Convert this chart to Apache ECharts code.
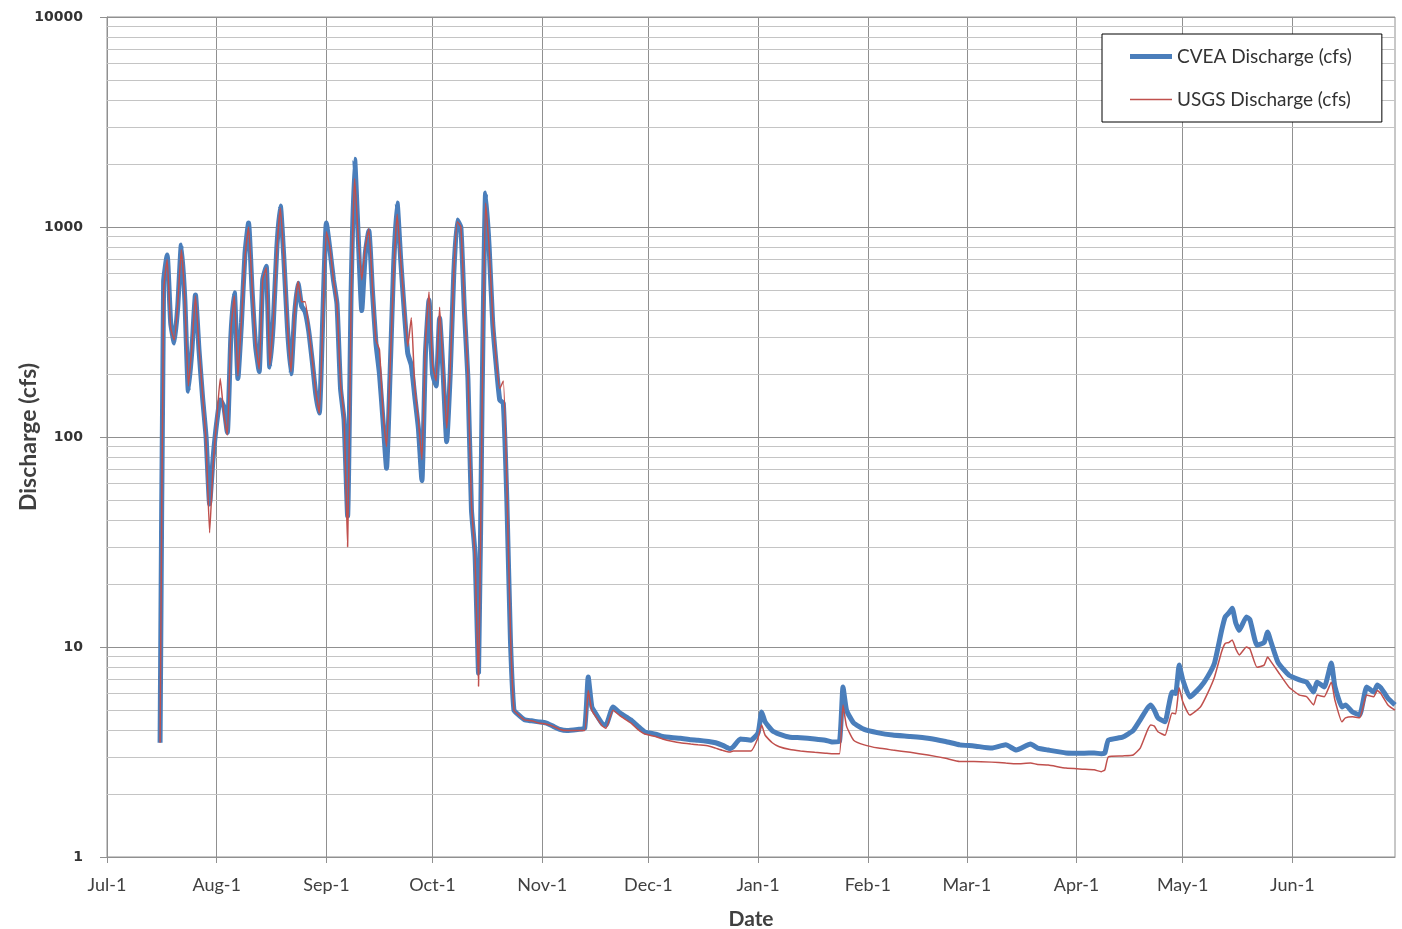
<!DOCTYPE html>
<html>
<head>
<meta charset="utf-8">
<script src="https://cdn.jsdelivr.net/npm/echarts@6/dist/echarts.min.js"></script>
<style>
  html, body { margin: 0; padding: 0; background: #ffffff; }
  #chart { width: 1402px; height: 929px; }
</style>
</head>
<body>
<div id="chart"></div>
<script>
// ---- Axis categories (one per day, Jul-1 .. Jun-30) ----
const monthNames = ['Jul', 'Aug', 'Sep', 'Oct', 'Nov', 'Dec', 'Jan', 'Feb', 'Mar', 'Apr', 'May', 'Jun'];
const monthLengths = [31, 31, 30, 31, 30, 31, 31, 28, 31, 30, 31, 30];
const yTickValues = [1, 10, 100, 1000, 10000];
const minorGridValues = [2, 3, 4, 5, 6, 7, 8, 9, 20, 30, 40, 50, 60, 70, 80, 90,
  200, 300, 400, 500, 600, 700, 800, 900, 2000, 3000, 4000, 5000, 6000, 7000, 8000, 9000];

// ---- Data (day index from Jul-1, discharge in cfs) ----
const dayIndex = [
  15, 16, 17, 18, 19, 20, 21, 22, 23, 24, 25, 26, 27, 28, 29, 30, 31, 32, 33, 34,
  35, 36, 37, 38, 39, 40, 41, 42, 43, 44, 45, 46, 47, 48, 49, 50, 51, 52, 53, 54,
  55, 56, 57, 58, 59, 60, 61, 62, 63, 64, 65, 66, 67, 68, 69, 70, 71, 72, 73, 74,
  75, 76, 77, 78, 79, 80, 81, 82, 83, 84, 85, 86, 87, 88, 89, 90, 91, 92, 93, 94,
  95, 96, 97, 98, 99, 100, 101, 102, 103, 104, 105, 106, 107, 108, 109, 110, 111, 112, 113, 114,
  115, 116, 118, 120, 122, 124, 126, 128, 130, 133, 135, 136, 137, 138, 140, 141, 143, 145, 148, 150,
  152, 155, 157, 160, 162, 165, 167, 170, 172, 174, 176, 177, 179, 182, 184, 185, 186, 188, 190, 193,
  196, 200, 203, 205, 207, 208, 209, 211, 214, 218, 222, 227, 232, 237, 241, 245, 250, 254, 257, 261,
  263, 266, 271, 276, 279, 281, 282, 283, 287, 290, 292, 294, 295, 296, 297, 299, 300, 301, 302, 303,
  304, 306, 309, 311, 313, 315, 316, 317, 318, 319, 320, 322, 323, 325, 327, 328, 329, 331, 334, 337,
  339, 341, 342, 344, 346, 347, 349, 350, 352, 354, 356, 358, 359, 360, 362, 364
];
const cveaDischarge = [
  3.5, 550, 736, 350, 280, 420, 821, 450, 165, 260, 475, 260, 155, 100, 48, 80, 117, 150, 140, 105,
  300, 486, 190, 350, 750, 1045, 500, 270, 205, 560, 650, 215, 350, 800, 1260, 700, 330, 200, 380, 540,
  420, 395, 320, 230, 160, 130, 380, 1045, 780, 560, 430, 170, 120, 42, 500, 2100, 900, 400, 750, 960,
  500, 280, 200, 120, 71, 200, 650, 1300, 700, 400, 250, 220, 155, 110, 62, 250, 449, 200, 175, 369,
  200, 95, 200, 600, 1080, 1000, 400, 190, 45, 28, 7.5, 150, 1450, 800, 350, 220, 150, 145, 50, 11,
  5.0, 4.8, 4.5, 4.45, 4.4, 4.35, 4.2, 4.05, 4.0, 4.05, 4.1, 7.2, 5.2, 4.85, 4.3, 4.25, 5.18, 4.85, 4.5, 4.2,
  3.94, 3.85, 3.75, 3.7, 3.68, 3.62, 3.6, 3.55, 3.5, 3.4, 3.28, 3.35, 3.65, 3.6, 3.9, 4.9, 4.4, 4.0, 3.85, 3.72,
  3.7, 3.65, 3.6, 3.53, 3.55, 6.45, 5.0, 4.35, 4.05, 3.9, 3.81, 3.75, 3.68, 3.55, 3.42, 3.38, 3.3, 3.42, 3.23, 3.45,
  3.3, 3.23, 3.13, 3.12, 3.13, 3.1, 3.13, 3.6, 3.72, 4.0, 4.5, 5.1, 5.3, 5.0, 4.6, 4.4, 5.2, 6.1, 6.0, 8.2,
  7.0, 5.78, 6.45, 7.2, 8.4, 12.0, 13.9, 14.5, 15.3, 13.0, 12.0, 13.9, 13.5, 10.2, 10.5, 11.8, 10.5, 8.4, 7.35, 6.97,
  6.8, 6.1, 6.8, 6.45, 8.4, 6.5, 5.18, 5.3, 4.9, 4.74, 6.45, 6.1, 6.6, 6.4, 5.7, 5.3
];
const usgsDischarge = [
  3.5, 500, 700, 330, 290, 430, 780, 450, 175, 270, 470, 270, 160, 95, 35, 75, 120, 190, 130, 102,
  320, 470, 195, 360, 720, 1000, 520, 280, 210, 560, 640, 220, 360, 780, 1230, 700, 340, 205, 390, 550,
  440, 440, 330, 235, 165, 130, 360, 950, 800, 560, 430, 180, 125, 30, 450, 1700, 900, 560, 800, 980,
  520, 290, 260, 130, 90, 210, 600, 1150, 700, 420, 270, 370, 170, 120, 78, 280, 490, 220, 185, 415,
  210, 110, 210, 600, 1060, 1000, 420, 200, 48, 27, 6.5, 140, 1300, 800, 370, 230, 170, 185, 60, 12,
  5.0, 4.8, 4.5, 4.45, 4.35, 4.3, 4.2, 4.05, 4.0, 4.0, 4.0, 6.2, 5.0, 4.7, 4.2, 4.1, 5.0, 4.7, 4.35, 4.05,
  3.85, 3.75, 3.65, 3.55, 3.5, 3.45, 3.42, 3.38, 3.3, 3.22, 3.16, 3.2, 3.2, 3.2, 3.7, 4.25, 3.8, 3.5, 3.35, 3.25,
  3.2, 3.15, 3.12, 3.1, 3.1, 5.3, 4.2, 3.6, 3.42, 3.3, 3.23, 3.15, 3.06, 2.95, 2.85, 2.85, 2.83, 2.8, 2.78, 2.8,
  2.76, 2.74, 2.65, 2.62, 2.6, 2.55, 2.6, 3.0, 3.03, 3.06, 3.3, 4.0, 4.25, 4.2, 3.95, 3.8, 4.3, 4.85, 4.8, 6.4,
  5.5, 4.74, 5.18, 6.0, 7.2, 9.5, 10.4, 10.5, 10.8, 9.8, 9.17, 10.0, 9.8, 8.0, 8.2, 8.95, 8.5, 7.6, 6.45, 5.9,
  5.8, 5.3, 5.9, 5.8, 6.8, 5.6, 4.4, 4.6, 4.65, 4.6, 5.9, 5.8, 6.2, 6.0, 5.3, 5.0
];

// ---- Build options ----
const categories = [];
monthNames.forEach((m, i) => {
  for (let d = 1; d <= monthLengths[i]; d++) categories.push(m + '-' + d);
});
const isMonthStart = (idx, val) => /-1$/.test(val);

const cveaData = dayIndex.map((d, i) => [d, cveaDischarge[i]]);
const usgsData = dayIndex.map((d, i) => [d, usgsDischarge[i]]);

const labelFont = 'Lato, "Open Sans", sans-serif';
const chart = echarts.init(document.getElementById('chart'), null, { renderer: 'canvas' });

chart.setOption({
  animation: false,
  backgroundColor: '#ffffff',
  grid: {
    left: 107, right: 7, top: 17, bottom: 72,
    containLabel: false,
    outerBoundsMode: 'none',
    show: true, borderColor: '#909090', borderWidth: 1
  },
  legend: {
    show: true,
    z: 20,
    orient: 'vertical',
    left: 1102, top: 34,
    padding: [13, 30, 13, 28],
    borderColor: '#000000', borderWidth: 1,
    backgroundColor: '#ffffff',
    itemWidth: 42, itemHeight: 14, itemGap: 24,
    textStyle: { fontFamily: labelFont, fontSize: 19, color: '#333333' },
    data: [
      { name: 'CVEA Discharge (cfs)', icon: 'path://M0,0 L42,0 L42,5 L0,5 Z', itemStyle: { color: '#4a7ebb' } },
      { name: 'USGS Discharge (cfs)', icon: 'path://M0,0 L42,0 L42,1.5 L0,1.5 Z', itemStyle: { color: '#c0504d' } }
    ]
  },
  xAxis: {
    type: 'category',
    data: categories,
    boundaryGap: false,
    name: 'Date',
    nameLocation: 'middle',
    nameGap: 52,
    nameMoveOverlap: false,
    nameTextStyle: { fontFamily: labelFont, fontSize: 21, fontWeight: 'bold', color: '#404040' },
    axisLine: { show: true, lineStyle: { color: '#909090', width: 1 } },
    axisTick: { show: true, interval: isMonthStart, length: 6, lineStyle: { color: '#909090' } },
    axisLabel: {
      interval: isMonthStart, margin: 19,
      fontFamily: labelFont, fontSize: 18, color: '#404040'
    },
    splitLine: { show: true, interval: isMonthStart, lineStyle: { color: '#909090', width: 1 } }
  },
  yAxis: {
    type: 'log',
    logBase: 10,
    min: 1, max: 10000,
    name: 'Discharge (cfs)',
    nameLocation: 'middle',
    nameGap: 67,
    nameRotate: 90,
    nameMoveOverlap: false,
    nameTextStyle: { fontFamily: labelFont, fontSize: 23, fontWeight: 'bold', color: '#404040' },
    axisLine: { show: true, lineStyle: { color: '#909090', width: 1 } },
    axisTick: { show: true, length: 7, lineStyle: { color: '#909090' } },
    axisLabel: {
      margin: 24,
      fontFamily: '"DejaVu Sans", Verdana, sans-serif', fontSize: 14, fontWeight: 'bold', color: '#333333',
      formatter: v => String(Math.round(v))
    },
    splitLine: { show: true, lineStyle: { color: '#909090', width: 1 } }
  },
  series: [
    {
      name: 'minor-grid',
      type: 'line',
      data: [],
      silent: true,
      z: 1,
      markLine: {
        silent: true,
        z: 1,
        symbol: ['none', 'none'],
        label: { show: false },
        lineStyle: { type: 'solid', color: '#c4c4c4', width: 1 },
        emphasis: { disabled: true },
        data: minorGridValues.map(v => ({ yAxis: v }))
      }
    },
    {
      name: 'CVEA Discharge (cfs)',
      type: 'line',
      data: cveaData,
      showSymbol: false,
      symbol: 'none',
      connectNulls: true,
      smooth: 0.15,
      z: 3,
      lineStyle: { color: '#4a7ebb', width: 5 },
      itemStyle: { color: '#4a7ebb' }
    },
    {
      name: 'USGS Discharge (cfs)',
      type: 'line',
      data: usgsData,
      showSymbol: false,
      symbol: 'none',
      connectNulls: true,
      smooth: 0.15,
      z: 4,
      lineStyle: { color: '#c0504d', width: 1.5 },
      itemStyle: { color: '#c0504d' }
    }
  ]
});
</script>
</body>
</html>
